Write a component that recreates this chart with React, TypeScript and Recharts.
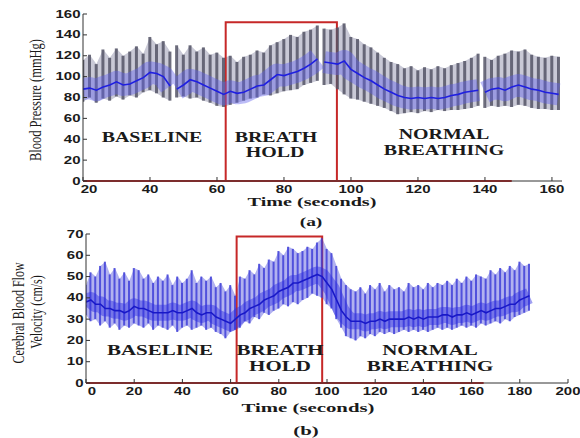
import React from 'react'
import {
    ComposedChart,
    Area,
    Bar,
    Line,
    XAxis,
    YAxis,
    ReferenceArea,
    ReferenceLine,
} from 'recharts'

// (a) blood pressure, one value per beat (null = recording gap)
const bpTime = [
    20, 22, 24, 26, 28, 30, 32, 34, 36, 38, 40, 42, 44, 46, 47,
    48, 50, 52, 54, 56, 58, 60, 62, 64, 66, 68, 70, 72, 74, 76, 78, 80, 82, 84, 86, 88, 90, 91,
    92, 94, 96, 98, 100, 102, 104, 106, 108, 110, 112, 114, 116, 118, 120,
    122, 124, 126, 128, 130, 132, 134, 136, 138, 139,
    140, 142, 144, 146, 148, 150, 152, 154, 156, 158, 160, 162,
]
const bpHigh = [
    116, 121, 112, 126, 118, 127, 120, 124, 129, 122, 138, 131, 134, 124, null,
    130, 121, 130, 124, 128, 121, 123, 118, 120, 114, 119, 121, 125, 123, 130, 133, 136, 140, 138, 143, 145, 149, null,
    146, 145, 147, 151, 138, 136, 131, 128, 123, 118, 114, 112, 108, 110, 106,
    109, 107, 110, 108, 111, 113, 115, 118, 122, null,
    119, 116, 120, 122, 125, 124, 126, 121, 119, 118, 120, 119,
]
const bpLow = [
    76, 80, 75, 79, 77, 81, 78, 82, 80, 85, 87, 84, 80, 77, null,
    80, 81, 79, 80, 77, 75, 72, 71, 73, 75, 77, 79, 80, 83, 82, 84, 86, 87, 88, 92, 94, 96, null,
    92, 93, 88, 83, 79, 78, 76, 74, 72, 70, 67, 64, 65, 66, 65,
    67, 66, 68, 67, 68, 68, 69, 70, 72, null,
    70, 72, 71, 72, 71, 73, 72, 70, 69, 69, 68, 68,
]
const bpMean = [
    88, 89, 87, 90, 92, 95, 92, 93, 96, 99, 104, 103, 100, 91, null,
    88, 92, 97, 95, 92, 89, 86, 83, 86, 84, 85, 88, 91, 92, 97, 102, 101, 103, 105, 108, 112, 117, null,
    114, 113, 112, 115, 107, 103, 99, 96, 92, 88, 85, 82, 80, 79, 80,
    79, 80, 79, 80, 82, 83, 85, 86, 87, null,
    85, 88, 89, 87, 90, 92, 90, 88, 87, 85, 84, 83,
]
const bpTicksX = [20, 40, 60, 80, 100, 120, 140, 160]
const bpTicksY = [0, 20, 40, 60, 80, 100, 120, 140, 160]

// (b) cerebral blood flow velocity
const cbfvTime = [
    0, 2, 4, 6, 8, 10, 12, 14, 16, 18,
    20, 22, 24, 26, 28, 30, 32, 34, 36, 38,
    40, 42, 44, 46, 48, 50, 52, 54, 56, 58,
    60, 62, 64, 66, 68, 70, 72, 74, 76, 78,
    80, 82, 84, 86, 88, 90, 92, 94, 96, 98,
    100, 102, 104, 106, 108, 110, 112, 114, 116, 118,
    120, 122, 124, 126, 128, 130, 132, 134, 136, 138,
    140, 142, 144, 146, 148, 150, 152, 154, 156, 158,
    160, 162, 164, 166, 168, 170, 172, 174, 176, 178,
    180, 182, 184,
]
const cbfvHigh = [
    46, 52, 50, 55, 57, 51, 54, 49, 52, 48,
    54, 53, 49, 51, 47, 50, 48, 51, 46, 50,
    47, 49, 53, 47, 50, 48, 50, 45, 47, 43,
    46, 41, 50, 49, 53, 51, 56, 54, 58, 57,
    62, 60, 64, 63, 61, 62, 64, 63, 66, 68,
    63, 61, 55, 49, 46, 44, 43, 45, 42, 46,
    44, 47, 43, 46, 44, 45, 43, 47, 45, 46,
    44, 47, 45, 47, 46, 48, 46, 49, 47, 50,
    48, 51, 50, 49, 53, 51, 54, 52, 55, 53,
    57, 55, 56,
]
const cbfvLow = [
    32, 29, 30, 27, 29, 26, 28, 25, 27, 26,
    28, 27, 26, 28, 25, 27, 26, 25, 27, 24,
    26, 27, 25, 26, 27, 25, 26, 24, 23, 21,
    24, 25, 26, 29, 28, 31, 30, 33, 32, 34,
    35, 37, 36, 38, 37, 39, 40, 42, 41, 40,
    37, 35, 30, 26, 22, 21, 20, 22, 21, 23,
    22, 24, 23, 24, 23, 24, 25, 24, 25, 24,
    25, 24, 25, 26, 25, 26, 25, 26, 27, 26,
    27, 26, 28, 27, 28, 29, 28, 30, 29, 31,
    32, 33, 34,
]
const cbfvMean = [
    38, 39, 37, 37, 35, 35, 34, 34, 33, 34,
    36, 35, 35, 34, 33, 33, 33, 33, 34, 33,
    33, 34, 35, 33, 32, 33, 33, 31, 30, 29,
    28, 30, 32, 33, 35, 36, 37, 39, 40, 41,
    43, 44, 45, 47, 47, 48, 49, 50, 51, 50,
    47, 44, 39, 34, 31, 29, 29, 29, 28, 29,
    29, 30, 29, 30, 30, 30, 30, 31, 30, 31,
    30, 31, 31, 31, 32, 32, 31, 32, 32, 33,
    32, 33, 34, 33, 34, 35, 35, 36, 37, 37,
    39, 40, 41,
]
const cbfvTicksX = [0, 20, 40, 60, 80, 100, 120, 140, 160, 180, 200]
const cbfvTicksY = [0, 10, 20, 30, 40, 50, 60, 70]

const bpData = bpTime.map((t, i) => ({ t, hi: bpHigh[i], lo: bpLow[i], mean: bpMean[i] }))
const cbfvData = cbfvTime.map((t, i) => ({ t, hi: cbfvHigh[i], lo: cbfvLow[i], mean: cbfvMean[i] }))

const range = (d: any) => (d.hi == null ? null : [d.lo, d.hi])

const SANS = "'Liberation Sans', Arial, sans-serif"
const SERIF = "'Liberation Serif', 'Times New Roman', serif"
const RED = '#c62828'

// first label sits a little right of the corner, as in the original figure
const XTick = ({ x, y, payload, index }: any) => (
    <g transform={`translate(${index === 0 ? x + 6 : x},${y + 16}) scale(1.5,1)`}>
        <text textAnchor="middle" fontSize={10} fontWeight="bold" fontFamily={SANS} fill="#1a1a1a">
            {payload.value}
        </text>
    </g>
)

const YTick = ({ x, y, payload }: any) => (
    <g transform={`translate(${x - 6.5},${y + 3.6}) scale(1.5,1)`}>
        <text textAnchor="end" fontSize={10} fontWeight="bold" fontFamily={SANS} fill="#1a1a1a">
            {payload.value}
        </text>
    </g>
)

const Txt = ({ x, y, sx = 1, sy = 1, rot = 0, size, bold = false, children }: any) => (
    <text
        transform={`translate(${x},${y}) rotate(${rot}) scale(${sx},${sy})`}
        textAnchor="middle"
        fontSize={size}
        fontWeight={bold ? 'bold' : 'normal'}
        fontFamily={SERIF}
        fill="#1a1a1a"
    >
        {children}
    </text>
)

function Panel({ data, top, xDomain, xTicks, yDomain, yTicks, yWidth, right, xHeight, box, redEnd, c }: any) {
    return (
        <div style={{ position: 'absolute', left: 0, top }}>
            <ComposedChart
                width={580}
                height={200}
                data={data}
                margin={{ top: 14, right, bottom: 0, left: 0 }}
            >
                <XAxis
                    dataKey="t"
                    type="number"
                    domain={xDomain}
                    ticks={xTicks}
                    interval={0}
                    height={xHeight}
                    tickSize={-4}
                    tickMargin={0}
                    tick={XTick}
                    axisLine={{ stroke: '#333' }}
                    tickLine={{ stroke: '#333' }}
                    allowDataOverflow
                />
                <XAxis
                    xAxisId="top"
                    orientation="top"
                    type="number"
                    domain={xDomain}
                    ticks={xTicks}
                    interval={0}
                    height={0}
                    tickSize={-4}
                    tick={false}
                    axisLine={{ stroke: '#333' }}
                    tickLine={{ stroke: '#333' }}
                    allowDataOverflow
                />
                <YAxis
                    type="number"
                    domain={yDomain}
                    ticks={yTicks}
                    interval={0}
                    width={yWidth}
                    tickSize={-4}
                    tickMargin={0}
                    tick={YTick}
                    axisLine={{ stroke: '#333' }}
                    tickLine={{ stroke: '#333' }}
                    allowDataOverflow
                />
                <YAxis
                    yAxisId="right"
                    orientation="right"
                    type="number"
                    domain={yDomain}
                    ticks={yTicks}
                    interval={0}
                    width={0}
                    tickSize={-4}
                    tick={false}
                    axisLine={{ stroke: '#333' }}
                    tickLine={{ stroke: '#333' }}
                    allowDataOverflow
                />
                <Area
                    dataKey={range}
                    type="linear"
                    stroke="none"
                    fill={c.env}
                    fillOpacity={1}
                    isAnimationActive={false}
                />
                <Bar dataKey={range} barSize={c.barSize} fill={c.bar} fillOpacity={c.barOpacity} isAnimationActive={false} />
                <Line
                    dataKey="mean"
                    type="linear"
                    stroke={c.band}
                    strokeWidth={c.bandWidth}
                    strokeLinejoin="round"
                    dot={false}
                    isAnimationActive={false}
                />
                <Line
                    dataKey="mean"
                    type="linear"
                    stroke={c.mean}
                    strokeWidth={1.6}
                    dot={false}
                    isAnimationActive={false}
                />
                <ReferenceArea
                    x1={box[0]}
                    x2={box[1]}
                    y1={0}
                    y2={box[2]}
                    fill="none"
                    stroke={RED}
                    strokeWidth={2}
                    ifOverflow="visible"
                />
                <ReferenceLine
                    segment={[{ x: xDomain[0], y: 0 }, { x: redEnd, y: 0 }]}
                    stroke={RED}
                    strokeWidth={2}
                    ifOverflow="visible"
                />
            </ComposedChart>
        </div>
    )
}

export default function App() {
    return (
        <div
            style={{
                position: 'absolute',
                left: 0,
                top: 0,
                width: 580,
                height: 438,
                background: '#fff',
                overflow: 'hidden',
            }}
        >
            <Panel
                data={bpData}
                top={0}
                xDomain={[20, 163]}
                xTicks={bpTicksX}
                yDomain={[0, 160]}
                yTicks={bpTicksY}
                yWidth={83}
                right={18}
                xHeight={19}
                box={[62.6, 95.8, 152]}
                redEnd={148}
                c={{
                    env: '#c9c9d6',
                    bar: '#555566',
                    barOpacity: 0.85,
                    barSize: 3,
                    band: 'rgba(95,95,235,0.42)',
                    bandWidth: 22,
                    mean: '#1f1fe0',
                }}
            />
            <Panel
                data={cbfvData}
                top={220}
                xDomain={[0, 200]}
                xTicks={cbfvTicksX}
                yDomain={[0, 70]}
                yTicks={cbfvTicksY}
                yWidth={86}
                right={12}
                xHeight={37}
                box={[62.5, 98, 68.8]}
                redEnd={165}
                c={{
                    env: '#b2b2f0',
                    bar: '#4040d8',
                    barOpacity: 0.85,
                    barSize: 2,
                    band: 'rgba(45,45,225,0.45)',
                    bandWidth: 16,
                    mean: '#1818c8',
                }}
            />
            <svg
                width={580}
                height={438}
                style={{ position: 'absolute', left: 0, top: 0, pointerEvents: 'none' }}
            >
                {/* panel (a) */}
                <Txt x={152} y={142} size={15} bold sx={1.33}>BASELINE</Txt>
                <Txt x={276} y={142} size={15} bold sx={1.33}>BREATH</Txt>
                <Txt x={275} y={157} size={15} bold sx={1.33}>HOLD</Txt>
                <Txt x={444} y={139} size={15} bold sx={1.33}>NORMAL</Txt>
                <Txt x={444} y={155} size={15} bold sx={1.33}>BREATHING</Txt>
                <Txt x={312} y={206} size={13} bold sx={1.55}>Time (seconds)</Txt>
                <Txt x={311} y={226} size={13} bold sx={1.5}>(a)</Txt>
                <Txt x={41} y={100} size={12.5} rot={-90} sy={1.4}>Blood Pressure (mmHg)</Txt>

                {/* panel (b) */}
                <Txt x={160} y={355} size={15} bold sx={1.4}>BASELINE</Txt>
                <Txt x={280} y={355} size={15} bold sx={1.4}>BREATH</Txt>
                <Txt x={280} y={371} size={15} bold sx={1.4}>HOLD</Txt>
                <Txt x={430} y={355} size={15} bold sx={1.4}>NORMAL</Txt>
                <Txt x={430} y={371} size={15} bold sx={1.4}>BREATHING</Txt>
                <Txt x={308} y={412} size={13} bold sx={1.6}>Time (seconds)</Txt>
                <Txt x={306} y={435} size={13} bold sx={1.6}>(b)</Txt>
                <Txt x={24} y={313} size={12} rot={-90} sy={1.4}>Cerebral Blood Flow</Txt>
                <Txt x={42} y={312} size={12} rot={-90} sy={1.4}>Velocity (cm/s)</Txt>
            </svg>
        </div>
    )
}
